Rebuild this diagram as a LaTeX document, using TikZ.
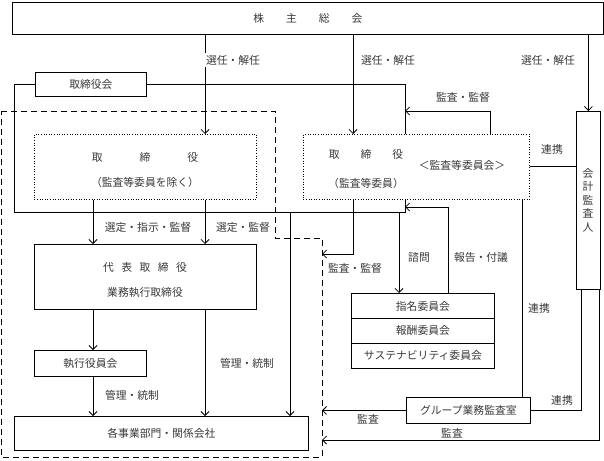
\documentclass[tikz,border=0pt]{standalone}
\usepackage{fontspec}
\newfontfamily\jp{Noto Sans CJK JP}
\usetikzlibrary{arrows.meta}
\definecolor{txt}{HTML}{383838}
\begin{document}
\begin{tikzpicture}[x=1pt,y=-1pt,line width=0.8pt,
  >={Straight Barb[length=4pt,width=8pt]},
  every node/.style={font=\jp\fontsize{10.8}{12}\selectfont,text=txt},
  box/.style={draw,anchor=north west,inner sep=0pt},
  dotbox/.style={box,dotted,line width=0.6pt},
  lbl/.style={fill=white,inner sep=2pt}]
\useasboundingbox (0,0) rectangle (604,460);
% boxes
\node[box,minimum width=591,minimum height=32] (gm) at (12,2) {};
\node (gmt) at (gm.center) {株\hspace{22pt}主\hspace{22pt}総\hspace{22pt}会};
\node[box,minimum width=111,minimum height=24] (bod) at (35,72) {};
\node (bodt) at (bod.center) {取締役会};
\node[dotbox,minimum width=222,minimum height=65] (dirL) at (34,134) {};
\node[align=center,font=\jp\fontsize{10.8}{25}\selectfont] (dirLt) at (145,169.5) {取\hspace{37pt}締\hspace{37pt}役\\（監査等委員を除く）};
\node[dotbox,minimum width=226,minimum height=65] (dirR) at (303,134) {};
\node[align=center,font=\jp\fontsize{10.8}{29}\selectfont] (dirRt) at (366,168.5) {取\hspace{21pt}締\hspace{21pt}役\\（監査等委員）};
\node (dirRc) at (462,165) {＜監査等委員会＞};
\node[box,minimum width=222,minimum height=65] (rep) at (34,244) {};
\node[align=center,font=\jp\fontsize{10.8}{25}\selectfont] (rept) at (145,279.5) {代\hspace{7.5pt}表\hspace{7.5pt}取\hspace{7.5pt}締\hspace{7.5pt}役\\業務執行取締役};
\node[box,minimum width=112,minimum height=26] (exec) at (34,350) {};
\node (exect) at (exec.center) {執行役員会};
\node[box,minimum width=294,minimum height=34] (biz) at (14,416) {};
\node (bizt) at (biz.center) {各事業部門・関係会社};
\node[box,minimum width=24,minimum height=178] (aud) at (576,111) {};
\node[align=center,font=\jp\fontsize{10.8}{13.5}\selectfont] (audt) at (588,200) {会\\計\\監\\査\\人};
\node[box,minimum width=143,minimum height=25] (c1) at (351,293) {};
\node (c1t) at (c1.center) {指名委員会};
\node[box,minimum width=143,minimum height=25] (c2) at (351,318) {};
\node (c2t) at (c2.center) {報酬委員会};
\node[box,minimum width=143,minimum height=25] (c3) at (351,343) {};
\node (c3t) at (c3.center) {サステナビリティ委員会};
\node[box,minimum width=124,minimum height=26] (grp) at (406,397) {};
\node (grpt) at (grp.center) {グループ業務監査室};
% dashed region
\draw[dashed,dash pattern=on 6pt off 4pt,line width=0.8pt] (1,111) -- (275,111) -- (275,238) -- (322,238) -- (322,457) -- (1,457) -- cycle;
% x positions
\coordinate (xa) at (93,0);
\coordinate (xb) at (205,0);
\coordinate (xc) at (353,0);
\coordinate (xe) at (290,0);
\coordinate (loopL) at (14,212);
\coordinate (loopR) at (405,212);
\coordinate (xk) at (399,0);
\coordinate (xl) at (448,0);
\coordinate (xm) at (522,0);
\coordinate (xi) at (490,0);
\coordinate (xo) at (581,0);
\coordinate (xp) at (599,0);
\coordinate (dashR) at (322,0);
\coordinate (pA) at (405,111);
\coordinate (pB) at (405,207);
\coordinate (pH) at (322,254);
\coordinate (pP) at (322,440);
% connectors
\draw[->] (xb |- gm.south) -- (xb |- dirL.north);
\draw[->] (xc |- gm.south) -- (xc |- dirR.north);
\draw[->] (aud.north |- gm.south) -- (aud.north);
\draw (bod.west) -| (loopL) -- (loopR) -- (loopR |- dirR.south);
\draw (bod.east) -| (loopR |- dirR.north);
\draw[->] (xe |- loopL) -- (xe |- biz.north);
\draw[->] (xa |- dirL.south) -- (xa |- rep.north);
\draw[->] (xb |- dirL.south) -- (xb |- rep.north);
\draw[->] (xa |- rep.south) -- (xa |- exec.north);
\draw[->] (xa |- exec.south) -- (xa |- biz.north);
\draw[->] (xb |- rep.south) -- (xb |- biz.north);
\draw[->] (xc |- dirR.south) |- (pH);
\draw[->] (xi |- dirR.north) |- (pA);
\draw (dirR.east) -- (dirR.east -| aud.west);
\draw[->] (xk |- loopL) -- (xk |- c1.north);
\draw[->] (xl |- c1.north) |- (pB);
\draw (xm |- dirR.south) -- (xm |- grp.north);
\draw[->] (grp.west) -- (grp.west -| dashR);
\draw (grp.east) -| (xo |- aud.south);
\draw[->] (xp |- aud.south) |- (pP);
% labels
\node[lbl] (l1) at (233,60) {選任・解任};
\node[lbl] (l2) at (388,60) {選任・解任};
\node[lbl] (l3) at (548,60) {選任・解任};
\node[lbl] (l4) at (463,97) {監査・監督};
\node[lbl] (l5) at (552,149) {連携};
\node[lbl] (l6) at (148,227) {選定・指示・監督};
\node[lbl] (l7) at (243,227) {選定・監督};
\node[lbl] (l8) at (355,268) {監査・監督};
\node[lbl] (l9) at (419,257) {諮問};
\node[lbl] (l10) at (481,257) {報告・付議};
\node[lbl] (l11) at (539,308) {連携};
\node[lbl] (l12) at (247,363) {管理・統制};
\node[lbl] (l13) at (132,395) {管理・統制};
\node[lbl] (l14) at (368,419) {監査};
\node[lbl] (l15) at (562,400) {連携};
\node[lbl] (l16) at (452,433) {監査};
\end{tikzpicture}
\end{document}
